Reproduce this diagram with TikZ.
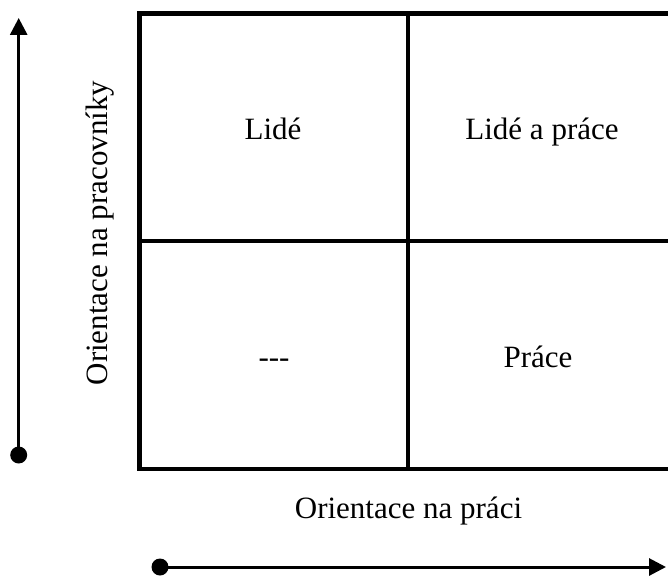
\documentclass[tikz,border=0pt]{standalone}
\usepackage{fontspec}
\setmainfont{Liberation Serif}
\usetikzlibrary{arrows.meta}
\begin{document}
\begin{tikzpicture}[x=1pt,y=-1pt,
  gridline/.style={line width=4.5pt},
  axis/.style={line width=3pt,-{Triangle[length=17pt,width=17pt]}},
  label/.style={font=\fontsize{31}{36}\selectfont, inner sep=0pt, anchor=base},
  dot/.style={circle, fill=black, inner sep=0pt, minimum size=17pt}]
\useasboundingbox (0,0) rectangle (668,575);
% quadrant grid
\draw[gridline] (672,13.5) -- (139.5,13.5) -- (139.5,469) -- (672,469);
\draw[gridline] (408,13.5) -- (408,469);
\draw[gridline] (139.5,241) -- (672,241);
% quadrant labels (placed by baseline)
\node[label] (tl) at (273,139) {Lidé};
\node[label] (tr) at (542,139) {Lidé a práce};
\node[label] (bl) at (274,367) {-{}-{}-};
\node[label] (br) at (538,367) {Práce};
% axes
\node[dot] (vstart) at (18.7,455) {};
\coordinate (vend) at (18.7,18);
\draw[axis] (vstart.center) -- (vend);
\node[dot] (hstart) at (160,567) {};
\coordinate (hend) at (666,567);
\draw[axis] (hstart.center) -- (hend);
% axis titles
\node[label, rotate=90] (ytitle) at (107,233) {Orientace na pracovníky};
\node[label] (xtitle) at (408.5,518) {Orientace na práci};
\end{tikzpicture}
\end{document}
